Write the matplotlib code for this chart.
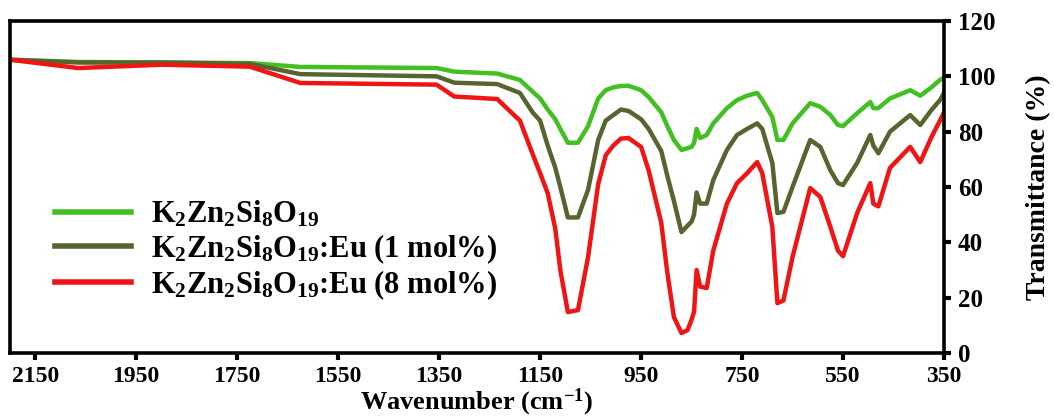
import numpy as np
import matplotlib
matplotlib.use("Agg")
import matplotlib.pyplot as plt

# FTIR transmittance (wavenumber in cm-1, T in %)
wavenumber = [2200, 2065, 1900, 1725, 1625, 1355, 1320, 1235, 1190, 1165,
              1150, 1135, 1120, 1110, 1095, 1075, 1055, 1035, 1020, 1005,
              990, 975, 950, 935, 910, 898, 885, 870, 858, 850,
              845, 840, 833, 820, 807, 780, 760, 740, 720, 710,
              690, 680, 668, 650, 615, 595, 575, 560, 550, 522,
              496, 490, 480, 457, 417, 397, 375, 358, 350]

t_pure = [106, 105.2, 105, 104.8, 103.4, 103, 101.7, 101, 98.7, 94.5,
          92, 88, 84.5, 81, 76, 76, 82, 92, 95, 96,
          96.5, 96.6, 95, 92.5, 87, 82, 77, 73.4, 74, 74.5,
          76, 81, 77.7, 78.8, 83, 88.5, 91.4, 93, 94, 91.4,
          85.3, 77, 77, 83, 90.3, 89, 86, 82.4, 82, 86.7,
          90.7, 88.5, 88.5, 92, 95, 93, 96, 98.7, 99.5]

t_eu1 = [106, 105, 105, 104.5, 100.8, 100, 97.7, 97.2, 94, 87,
         84, 75, 67, 60, 49, 49, 59, 77, 84, 86,
         88, 87.5, 84.5, 81, 73, 64, 55, 43.7, 46, 47.5,
         50, 58, 54, 54, 62.5, 73.4, 78.8, 81, 83, 81,
         68.7, 50.6, 51, 60, 77, 74.5, 66, 61.4, 60.7, 68.7,
         78.8, 75, 72.2, 80, 86, 82.4, 87.8, 91.4, 94]

t_eu8 = [106, 103, 104.2, 103.5, 97.6, 97, 92.7, 91.8, 84, 72,
         65, 57.8, 45, 30, 14.8, 15.5, 34.7, 61, 71.5, 75,
         77.5, 77.7, 74.5, 66, 47, 29, 13, 7.2, 8.3, 12,
         15, 30, 24, 23.5, 37, 54, 61.4, 65, 69, 65,
         45.5, 18, 19, 34.7, 59.6, 56.4, 45.5, 37, 35, 50.6,
         61.4, 54, 53, 66.9, 74.5, 69, 78, 84, 87]

labels = [r"K$_{2}$Zn$_{2}$Si$_{8}$O$_{19}$",
          r"K$_{2}$Zn$_{2}$Si$_{8}$O$_{19}$:Eu (1 mol%)",
          r"K$_{2}$Zn$_{2}$Si$_{8}$O$_{19}$:Eu (8 mol%)"]
colors = ["#43bf22", "#56652f", "#f01414"]
xticks = [2150, 1950, 1750, 1550, 1350, 1150, 950, 750, 550, 350]

plt.rcParams["font.family"] = "Liberation Serif"
plt.rcParams["font.weight"] = "bold"
plt.rcParams["mathtext.fontset"] = "custom"
plt.rcParams["mathtext.rm"] = "Liberation Serif:bold"
plt.rcParams["mathtext.it"] = "Liberation Serif:bold"
plt.rcParams["mathtext.bf"] = "Liberation Serif:bold"
plt.rcParams["mathtext.default"] = "rm"

fig = plt.figure(figsize=(10.54, 4.19), dpi=100)
ax = fig.add_axes([10 / 1054, 1 - 353 / 419, 934 / 1054, 332 / 419])

for y, lab, c in zip([t_pure, t_eu1, t_eu8], labels, colors):
    ax.plot(wavenumber, y, color=c, lw=3.2, label=lab, solid_joinstyle="round")

ax.set_xlim(2200, 350)
ax.set_ylim(0, 120)
ax.set_xticks(xticks)
ax.set_yticks(np.arange(0, 121, 20))

ax.yaxis.tick_right()
ax.yaxis.set_label_position("right")
for s in ax.spines.values():
    s.set_linewidth(2.6)
ax.tick_params(axis="both", direction="out", length=5, width=3,
               labelsize=18, pad=5)
ax.tick_params(axis="x", labelsize=17, pad=4)

ax.set_xlabel("Wavenumber (cm$^{-1}$)", fontsize=19, fontweight="bold", labelpad=0)
ax.set_ylabel("Transmittance (%)", fontsize=20, fontweight="bold", labelpad=22)

leg = ax.legend(loc="upper left", bbox_to_anchor=(0.035, 0.5), frameon=False,
                fontsize=22, handlelength=2.5, handletextpad=0.65,
                labelspacing=0.08, borderaxespad=0)
for line in leg.get_lines():
    line.set_linewidth(4)

fig.savefig("out.png", dpi=100)
